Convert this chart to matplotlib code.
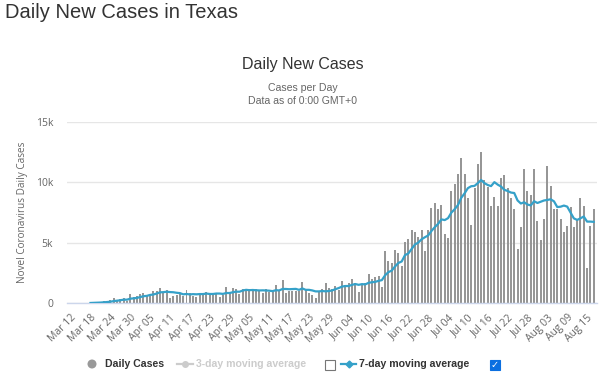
import matplotlib
matplotlib.use("Agg")
import matplotlib.pyplot as plt
import numpy as np
import pandas as pd
from matplotlib.patches import Circle, Rectangle

# ---------------- data (thousands of cases per day) ----------------
start_date = "2020-03-12"
daily_k = [
    0.005, 0.01, 0.02, 0.02, 0.03, 0.05, 0.06, 0.07, 0.09, 0.11,
    0.15, 0.2, 0.25, 0.4, 0.3, 0.35, 0.45, 0.15, 0.75, 0.5,
    0.6, 0.8, 0.85, 0.65, 0.7, 1.0, 1.05, 1.3, 0.9, 1.1,
    0.45, 0.6, 0.7, 0.85, 0.6, 1.1, 0.85, 0.6, 0.5, 0.85,
    0.85, 0.9, 0.85, 0.85, 0.85, 0.5, 0.65, 1.35, 0.9, 1.3,
    1.2, 0.8, 1.2, 1.05, 1.15, 1.0, 1.15, 1.1, 0.85, 1.15,
    0.9, 0.9, 1.55, 1.0, 1.95, 0.85, 1.0, 1.0, 1.0, 1.0,
    1.8, 1.15, 0.85, 0.65, 0.45, 1.0, 1.2, 1.65, 1.3, 1.2,
    1.4, 1.1, 1.85, 1.5, 1.65, 2.0, 1.65, 0.95, 1.5, 1.7,
    2.4, 2.0, 2.2, 2.25, 1.35, 4.36, 3.5, 3.3, 4.4, 4.2,
    3.1, 5.05, 5.3, 6.1, 5.9, 5.5, 6.1, 4.3, 6.1, 7.9,
    8.3, 7.8, 8.1, 5.7, 5.4, 9.3, 9.9, 10.7, 12.0, 10.7,
    8.7, 6.5, 9.5, 11.5, 12.5, 10.2, 9.6, 8.07, 8.8, 8.07,
    10.4, 10.6, 9.5, 8.7, 7.8, 4.5, 6.3, 11.1, 9.3, 9.0,
    11.1, 6.8, 5.25, 7.0, 11.4, 9.7, 7.8, 7.8, 7.0, 5.9,
    6.4, 7.95, 6.35, 6.9, 8.7, 8.07, 2.95, 6.4, 7.8,
]
y_ticks = [0, 5000, 10000, 15000]
y_tick_labels = ["0", "5k", "10k", "15k"]
tick_step_days = 6

daily = np.array(daily_k) * 1000.0
dates = pd.date_range(start_date, periods=len(daily), freq="D")
ma7 = pd.Series(daily).rolling(7, min_periods=7).mean().values
x = np.arange(len(daily))

# ---------------- figure ----------------
W, H = 600, 377
fig = plt.figure(figsize=(W / 100, H / 100), dpi=100)
fig.patch.set_facecolor("white")

L, R, T, B = 67, 597, 122, 303.3
ax = fig.add_axes([L / W, 1 - B / H, (R - L) / W, (B - T) / H])

bar_color = "#969696"
line_color = "#35a1c9"
ax.bar(x, daily, width=0.6, color=bar_color, zorder=2, linewidth=0)
ax.plot(x, ma7, color=line_color, lw=1.6, zorder=3, solid_joinstyle="round")

ax.set_xlim(-1.1, len(daily) + 0.0)
ax.set_ylim(0, 15000)
ax.set_yticks(y_ticks)
ax.set_yticklabels(y_tick_labels)
ax.grid(axis="y", color="#e6e6e6", lw=1, zorder=0)
ax.set_axisbelow(True)
for s in ["top", "right", "left"]:
    ax.spines[s].set_visible(False)
ax.spines["bottom"].set_color("#ccd6eb")
ax.spines["bottom"].set_linewidth(1)

tick_idx = list(range(0, len(daily), tick_step_days))
ax.set_xticks(tick_idx)
ax.set_xticklabels([dates[i].strftime("%b %d") for i in tick_idx],
                   rotation=45, ha="right", va="top", rotation_mode="anchor")
ax.tick_params(axis="x", length=0, pad=6.5, labelsize=7.5, labelcolor="#666666")
ax.tick_params(axis="y", length=0, pad=10, labelsize=7.5, labelcolor="#666666")
for lab in ax.get_xticklabels() + ax.get_yticklabels():
    lab.set_family("Open Sans")
ax.set_ylabel("Novel Coronavirus Daily Cases", family="Open Sans",
              fontsize=7.2, color="#666666")
ax.yaxis.set_label_coords((28 - L) / (R - L), 0.5)

# ---------------- texts ----------------
fig.text(5 / W, 1 - 13 / H, "Daily New Cases in Texas", family="Liberation Sans",
         fontsize=14.5, color="#333333", ha="left", va="center")
fig.text(303 / W, 1 - 64 / H, "Daily New Cases", family="Liberation Sans",
         fontsize=11.5, color="#333333", ha="center", va="center")
fig.text(303 / W, 1 - 88 / H, "Cases per Day", family="Liberation Sans",
         fontsize=7.6, color="#666666", ha="center", va="center")
fig.text(303 / W, 1 - 101 / H, "Data as of 0:00 GMT+0", family="Liberation Sans",
         fontsize=7.6, color="#666666", ha="center", va="center")

# ---------------- legend (overlay in pixel coords) ----------------
ov = fig.add_axes([0, 0, 1, 1], facecolor="none")
ov.set_xlim(0, W)
ov.set_ylim(H, 0)
ov.axis("off")
ly = 364
ov.add_patch(Circle((92, ly), 4.5, color="#999999", lw=0))
ov.text(105, ly, "Daily Cases", family="Liberation Sans", fontweight="bold",
        fontsize=7.6, color="#333333", va="center", ha="left")
ov.plot([177, 193], [ly, ly], color="#cccccc", lw=1.6)
ov.plot([185], [ly], marker="o", ms=4, color="#cccccc")
ov.text(196, ly, "3-day moving average", family="Liberation Sans", fontweight="bold",
        fontsize=7.6, color="#cccccc", va="center", ha="left")
ov.add_patch(Rectangle((325, ly - 4.5), 10, 10, facecolor="white",
                       edgecolor="#767676", lw=0.8))
ov.plot([341, 356], [ly, ly], color=line_color, lw=1.6)
ov.plot([348.5], [ly], marker="D", ms=3.5, color=line_color)
ov.text(359, ly, "7-day moving average", family="Liberation Sans", fontweight="bold",
        fontsize=7.6, color="#333333", va="center", ha="left")
ov.add_patch(Rectangle((490, ly - 4.5), 10, 10, facecolor="#0b6fe0",
                       edgecolor="#0b6fe0", lw=0.8))
ov.text(495, ly + 0.8, "\u2713", family="DejaVu Sans", fontweight="bold",
        fontsize=7, color="white", va="center", ha="center")

fig.savefig("out.png", dpi=100, facecolor="white")
